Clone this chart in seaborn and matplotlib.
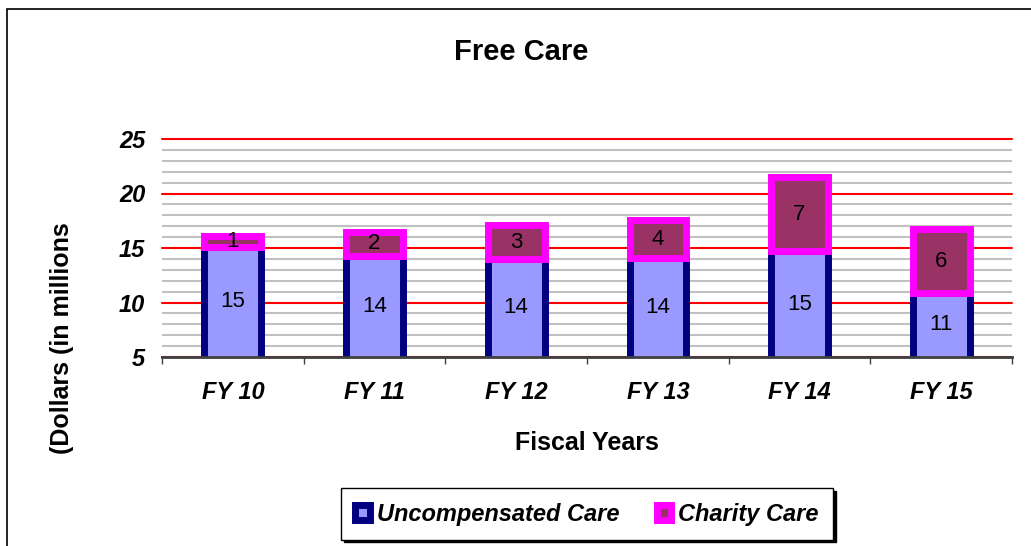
"""Free Care stacked bar chart."""
import matplotlib
matplotlib.use("Agg")
import matplotlib.pyplot as plt
from matplotlib.patches import Patch, Rectangle
from matplotlib.ticker import MultipleLocator, FixedLocator
import numpy as np
import seaborn as sns

# values (millions of dollars)
years = ["FY 10", "FY 11", "FY 12", "FY 13", "FY 14", "FY 15"]
uncompensated = [15.1, 14.3, 14.0, 14.05, 14.7, 10.9]
charity = [1.0, 2.2, 3.1, 3.55, 6.8, 5.8]

Y_MIN, Y_MAX = 5, 25
LIGHT, NAVY = "#9999FF", "#000080"
MAROON, MAGENTA = "#993366", "#FF00FF"

sns.set_style("white")
plt.rcParams["font.family"] = ["Liberation Sans", "DejaVu Sans"]
plt.rcParams.update({"text.color": "black", "axes.labelcolor": "black",
                     "xtick.color": "black", "ytick.color": "black"})

fig = plt.figure(figsize=(10.31, 5.46), dpi=100)
ax = fig.add_axes([162 / 1031, 1 - 357 / 546, 850 / 1031, 218 / 546])

sns.barplot(x=years, y=uncompensated, color=LIGHT, edgecolor=NAVY,
            linewidth=5, width=0.4, saturation=1, ax=ax)
sns.barplot(x=years, y=charity, bottom=np.array(uncompensated), color=MAROON,
            edgecolor=MAGENTA, linewidth=5, width=0.4, saturation=1, ax=ax)

for i, (u, c) in enumerate(zip(uncompensated, charity)):
    ax.text(i, (Y_MIN + u) / 2, f"{round(u)}", ha="center", va="center",
            fontsize=16, color="black")
    ax.text(i, u + c / 2, f"{round(c)}", ha="center", va="center",
            fontsize=16, color="black")

ax.set_ylim(Y_MIN, Y_MAX)
ax.set_xlim(-0.5, len(years) - 0.5)
ax.yaxis.set_major_locator(MultipleLocator(5))
ax.yaxis.set_minor_locator(MultipleLocator(1))
ax.set_axisbelow(True)
ax.grid(which="major", axis="y", color="red", linewidth=1.5)
ax.grid(which="minor", axis="y", color="#C0C0C0", linewidth=1.5)
ax.grid(which="major", axis="x", visible=False)
for line in ax.get_ygridlines():
    line.set_clip_on(False)

ax.xaxis.set_minor_locator(FixedLocator(np.arange(-0.5, len(years), 1)))
ax.tick_params(axis="x", which="major", length=0, pad=17)
ax.tick_params(axis="x", which="minor", length=5, width=1, color="#404040",
               direction="out", bottom=True)
ax.tick_params(axis="y", which="both", length=0, pad=12)
for lab in ax.get_xticklabels() + ax.get_yticklabels():
    lab.set_fontsize(17)
    lab.set_fontweight("bold")
    lab.set_fontstyle("italic")

for side in ["left", "right", "top"]:
    ax.spines[side].set_visible(False)
ax.spines["bottom"].set_color("#404040")
ax.spines["bottom"].set_linewidth(2)

ax.set_xlabel("Fiscal Years", fontsize=18, fontweight="bold", va="center")
ax.xaxis.set_label_coords(0.5, -0.394)
ax.set_ylabel("(Dollars (in millions", fontsize=18, fontweight="bold",
              va="center")
ax.yaxis.set_label_coords(-0.1176, 0.087)

fig.text(521 / 1031, 1 - 52 / 546, "Free Care", ha="center", va="center",
         fontsize=21, fontweight="bold")

handles = [
    Patch(facecolor=LIGHT, edgecolor=NAVY, linewidth=5, label="Uncompensated Care"),
    Patch(facecolor=MAROON, edgecolor=MAGENTA, linewidth=5, label="Charity Care"),
]
leg = fig.legend(handles=handles, loc="center", ncol=2,
                 bbox_to_anchor=(587 / 1031, 1 - 514 / 546),
                 borderaxespad=0,
                 prop={"size": 17, "weight": "bold", "style": "italic"},
                 handlelength=0.6, handleheight=0.6, handletextpad=0.3,
                 columnspacing=1.6, borderpad=0.6, fancybox=False,
                 edgecolor="black", framealpha=1,
                 shadow={"color": "black", "alpha": 1})
leg.get_frame().set_linewidth(1)

fig.add_artist(Rectangle((7 / 1031, -0.05), 1.1, 1.05 - 9 / 546,
                         transform=fig.transFigure, fill=False,
                         edgecolor="black", linewidth=1.2))

fig.savefig("out.png", dpi=100)
plt.close(fig)
